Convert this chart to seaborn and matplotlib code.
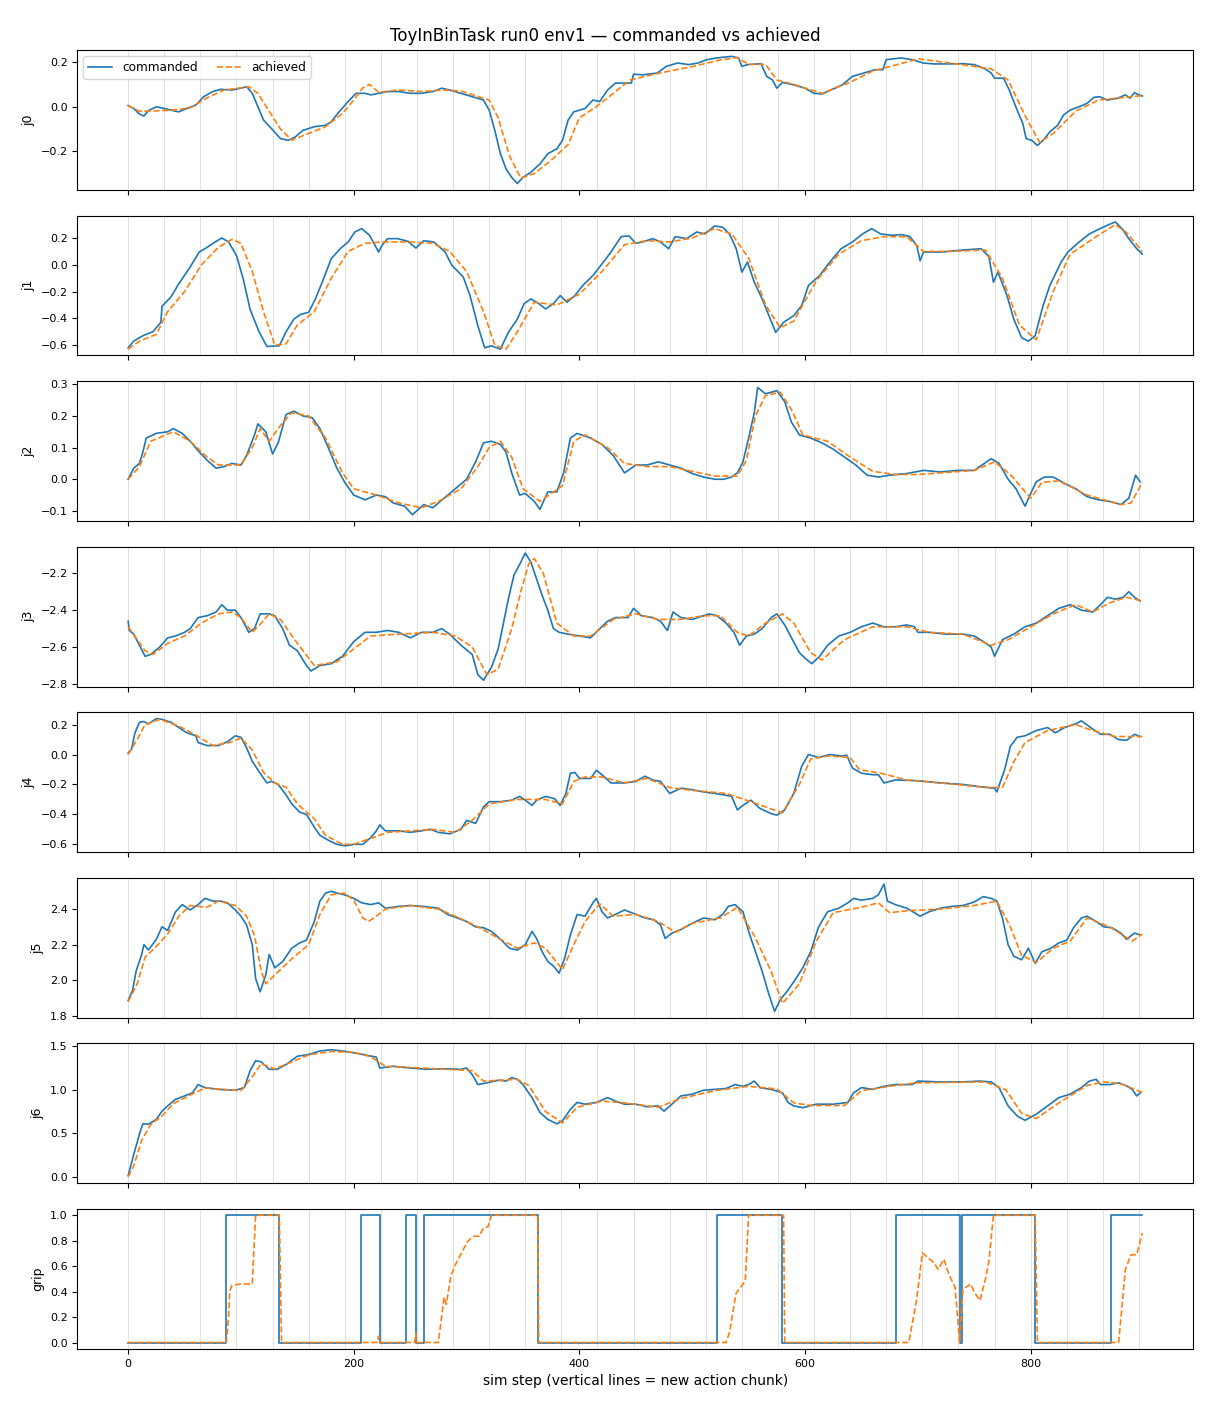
import numpy as np
import matplotlib
matplotlib.use("Agg")
import matplotlib.pyplot as plt
import seaborn as sns

# ---- data (sim step, joint value) ----
chunk_len = 32
n_steps = 900

j0_cmd_x = [0, 5, 10, 14, 18, 25, 32, 40, 45, 52, 60, 67, 75, 82, 92, 100, 105, 110, 115, 120, 127, 135, 142, 148, 155, 165, 175, 180, 187, 195, 202, 210, 215, 222, 230, 240, 250, 260, 270, 278, 285, 295, 305, 315, 320, 325, 330, 335, 340, 345, 350, 357, 365, 372, 380, 385, 390, 395, 405, 412, 418, 425, 432, 440, 446, 448, 456, 469, 477, 487, 497, 505, 513, 522, 530, 535, 541, 544, 549, 561, 566, 571, 575, 580, 590, 600, 608, 615, 623, 633, 642, 652, 662, 669, 672, 685, 695, 705, 714, 727, 740, 750, 760, 765, 768, 776, 781, 788, 793, 796, 801, 806, 811, 817, 824, 829, 835, 843, 850, 856, 861, 868, 877, 884, 888, 892, 896, 899]
j0_cmd_y = [0.005, -0.008, -0.033, -0.042, -0.018, 0.0, -0.008, -0.018, -0.023, -0.008, 0.008, 0.045, 0.068, 0.078, 0.075, 0.083, 0.09, 0.06, 0.0, -0.06, -0.098, -0.143, -0.151, -0.136, -0.106, -0.09, -0.083, -0.068, -0.023, 0.023, 0.06, 0.06, 0.053, 0.06, 0.068, 0.068, 0.06, 0.06, 0.068, 0.083, 0.075, 0.06, 0.045, 0.03, -0.015, -0.106, -0.211, -0.28, -0.317, -0.345, -0.317, -0.294, -0.257, -0.211, -0.189, -0.151, -0.06, -0.023, -0.008, 0.03, 0.023, 0.075, 0.106, 0.106, 0.106, 0.146, 0.143, 0.151, 0.181, 0.196, 0.189, 0.196, 0.211, 0.219, 0.223, 0.226, 0.219, 0.181, 0.189, 0.193, 0.136, 0.121, 0.083, 0.109, 0.098, 0.083, 0.06, 0.057, 0.075, 0.098, 0.136, 0.151, 0.166, 0.166, 0.211, 0.219, 0.211, 0.196, 0.192, 0.192, 0.193, 0.189, 0.169, 0.151, 0.128, 0.128, 0.075, -0.015, -0.075, -0.143, -0.151, -0.174, -0.151, -0.113, -0.083, -0.038, -0.015, 0.0, 0.015, 0.042, 0.045, 0.03, 0.038, 0.053, 0.038, 0.063, 0.053, 0.048]
j0_ach_x = [0, 10, 20, 40, 55, 70, 85, 100, 107, 115, 125, 135, 145, 160, 175, 190, 200, 208, 214, 222, 240, 260, 280, 295, 320, 328, 338, 348, 360, 375, 390, 400, 415, 430, 445, 470, 500, 525, 540, 550, 565, 575, 590, 615, 640, 660, 690, 700, 730, 765, 780, 795, 808, 820, 840, 860, 880, 899]
j0_ach_y = [0.005, -0.02, -0.02, -0.015, -0.005, 0.04, 0.075, 0.085, 0.09, 0.06, -0.02, -0.1, -0.15, -0.12, -0.09, -0.03, 0.03, 0.085, 0.1, 0.065, 0.075, 0.068, 0.075, 0.07, 0.03, -0.05, -0.22, -0.32, -0.30, -0.24, -0.17, -0.05, 0.0, 0.06, 0.12, 0.15, 0.18, 0.21, 0.22, 0.19, 0.19, 0.12, 0.10, 0.06, 0.11, 0.16, 0.2, 0.215, 0.195, 0.17, 0.12, -0.04, -0.16, -0.12, -0.02, 0.03, 0.04, 0.05]

j1_cmd_x = [0, 5, 13, 22, 29, 30, 38, 45, 54, 63, 70, 77, 83, 89, 96, 102, 108, 116, 123, 134, 140, 147, 153, 160, 166, 172, 180, 188, 195, 201, 207, 214, 222, 225, 230, 239, 248, 255, 262, 271, 281, 287, 297, 303, 310, 316, 322, 330, 337, 345, 351, 357, 364, 370, 377, 383, 389, 396, 403, 412, 419, 428, 437, 444, 450, 456, 465, 472, 479, 485, 495, 504, 511, 520, 527, 533, 539, 544, 549, 555, 562, 568, 574, 581, 590, 597, 603, 613, 622, 632, 642, 651, 659, 667, 677, 686, 693, 699, 702, 705, 721, 740, 756, 763, 767, 771, 779, 785, 792, 798, 804, 811, 817, 827, 833, 843, 852, 859, 868, 875, 881, 887, 894, 899]
j1_cmd_y = [-0.62, -0.57, -0.53, -0.50, -0.43, -0.31, -0.24, -0.14, -0.03, 0.095, 0.13, 0.17, 0.2, 0.17, 0.07, -0.105, -0.33, -0.5, -0.61, -0.605, -0.5, -0.405, -0.37, -0.355, -0.255, -0.13, 0.045, 0.12, 0.17, 0.245, 0.27, 0.22, 0.095, 0.145, 0.195, 0.195, 0.175, 0.125, 0.18, 0.17, 0.095, -0.005, -0.09, -0.23, -0.455, -0.62, -0.605, -0.63, -0.505, -0.405, -0.29, -0.255, -0.29, -0.33, -0.29, -0.23, -0.28, -0.23, -0.155, -0.08, -0.005, 0.095, 0.21, 0.215, 0.16, 0.17, 0.195, 0.17, 0.12, 0.21, 0.195, 0.245, 0.23, 0.29, 0.28, 0.23, 0.12, -0.055, 0.02, -0.13, -0.255, -0.38, -0.505, -0.43, -0.38, -0.305, -0.155, -0.08, 0.02, 0.12, 0.17, 0.23, 0.27, 0.23, 0.22, 0.225, 0.21, 0.145, 0.03, 0.095, 0.095, 0.11, 0.12, 0.06, -0.13, -0.055, -0.23, -0.405, -0.545, -0.57, -0.53, -0.305, -0.155, 0.02, 0.095, 0.17, 0.23, 0.26, 0.295, 0.32, 0.27, 0.195, 0.12, 0.08]
j1_ach_x = [0, 10, 25, 35, 50, 65, 80, 92, 100, 110, 120, 130, 140, 150, 165, 180, 195, 210, 225, 250, 270, 285, 300, 315, 325, 335, 345, 360, 380, 400, 420, 440, 460, 480, 500, 520, 535, 550, 565, 578, 590, 610, 630, 650, 670, 690, 705, 730, 760, 775, 790, 805, 820, 835, 860, 875, 885, 899]
j1_ach_y = [-0.63, -0.57, -0.52, -0.35, -0.2, 0.0, 0.13, 0.19, 0.16, -0.05, -0.35, -0.6, -0.59, -0.45, -0.35, -0.1, 0.1, 0.16, 0.17, 0.17, 0.16, 0.1, -0.05, -0.35, -0.6, -0.63, -0.5, -0.28, -0.3, -0.22, -0.05, 0.15, 0.18, 0.17, 0.2, 0.27, 0.23, 0.05, -0.3, -0.47, -0.42, -0.12, 0.08, 0.18, 0.21, 0.21, 0.1, 0.1, 0.11, -0.1, -0.45, -0.56, -0.2, 0.08, 0.22, 0.3, 0.24, 0.1]

j2_cmd_x = [0, 5, 10, 13, 16, 25, 35, 40, 48, 55, 62, 70, 78, 85, 92, 100, 105, 112, 115, 122, 128, 133, 140, 147, 155, 163, 170, 178, 185, 192, 200, 210, 220, 228, 235, 245, 252, 262, 270, 280, 290, 300, 308, 315, 322, 330, 335, 340, 347, 352, 360, 365, 372, 380, 386, 392, 398, 410, 420, 430, 440, 450, 460, 470, 480, 490, 500, 510, 520, 528, 535, 540, 545, 550, 555, 558, 565, 575, 582, 588, 595, 605, 615, 625, 635, 645, 655, 665, 675, 690, 705, 720, 735, 750, 765, 772, 780, 787, 795, 800, 805, 812, 820, 830, 840, 850, 860, 870, 880, 887, 893, 897]
j2_cmd_y = [0.0, 0.035, 0.05, 0.085, 0.13, 0.145, 0.15, 0.16, 0.145, 0.12, 0.09, 0.06, 0.035, 0.04, 0.05, 0.045, 0.075, 0.14, 0.175, 0.15, 0.08, 0.115, 0.205, 0.215, 0.2, 0.195, 0.16, 0.095, 0.035, -0.01, -0.05, -0.065, -0.05, -0.055, -0.075, -0.085, -0.112, -0.08, -0.09, -0.06, -0.03, 0.0, 0.055, 0.115, 0.12, 0.11, 0.085, 0.02, -0.05, -0.045, -0.07, -0.095, -0.04, -0.04, 0.02, 0.13, 0.145, 0.13, 0.11, 0.075, 0.02, 0.045, 0.045, 0.055, 0.045, 0.035, 0.018, 0.007, 0.0, 0.0, 0.007, 0.02, 0.055, 0.13, 0.21, 0.29, 0.27, 0.28, 0.245, 0.18, 0.14, 0.13, 0.115, 0.095, 0.07, 0.045, 0.013, 0.007, 0.013, 0.018, 0.028, 0.023, 0.028, 0.028, 0.065, 0.05, 0.0, -0.03, -0.085, -0.045, -0.008, 0.007, 0.007, -0.013, -0.03, -0.055, -0.065, -0.07, -0.08, -0.06, 0.013, -0.008]
j2_ach_x = [0, 10, 20, 40, 55, 70, 80, 100, 110, 117, 125, 135, 145, 160, 175, 190, 200, 220, 240, 260, 275, 295, 310, 320, 330, 340, 350, 365, 375, 385, 395, 405, 425, 440, 460, 480, 500, 520, 540, 548, 556, 565, 578, 588, 598, 620, 640, 660, 680, 700, 720, 750, 768, 782, 800, 810, 825, 850, 880, 889, 899]
j2_ach_y = [0.0, 0.04, 0.12, 0.15, 0.12, 0.07, 0.045, 0.045, 0.1, 0.16, 0.12, 0.17, 0.21, 0.2, 0.13, 0.02, -0.03, -0.05, -0.075, -0.09, -0.07, -0.03, 0.04, 0.1, 0.12, 0.07, -0.03, -0.07, -0.045, -0.02, 0.12, 0.14, 0.1, 0.05, 0.04, 0.04, 0.025, 0.01, 0.01, 0.06, 0.2, 0.265, 0.275, 0.22, 0.14, 0.12, 0.07, 0.025, 0.015, 0.015, 0.02, 0.028, 0.055, 0.015, -0.06, -0.01, -0.005, -0.05, -0.08, -0.075, -0.01]

j3_cmd_x = [0, 1, 5, 10, 15, 20, 28, 35, 42, 50, 55, 62, 70, 78, 83, 88, 95, 100, 107, 112, 117, 125, 130, 137, 143, 150, 158, 162, 170, 180, 190, 200, 210, 220, 230, 240, 250, 260, 270, 278, 285, 295, 305, 310, 315, 322, 328, 333, 337, 342, 348, 352, 357, 362, 367, 372, 377, 382, 390, 400, 410, 418, 425, 432, 438, 443, 448, 455, 465, 472, 478, 483, 490, 500, 510, 515, 522, 530, 537, 542, 548, 555, 562, 570, 575, 582, 588, 595, 600, 606, 613, 620, 630, 640, 650, 660, 670, 680, 690, 697, 700, 710, 725, 740, 750, 758, 765, 768, 775, 785, 795, 805, 815, 825, 835, 845, 855, 862, 868, 875, 882, 887, 892, 897]
j3_cmd_y = [-2.46, -2.51, -2.53, -2.59, -2.65, -2.64, -2.60, -2.55, -2.54, -2.52, -2.50, -2.44, -2.43, -2.41, -2.37, -2.40, -2.40, -2.44, -2.52, -2.50, -2.42, -2.42, -2.43, -2.50, -2.59, -2.62, -2.70, -2.73, -2.70, -2.69, -2.65, -2.57, -2.52, -2.52, -2.51, -2.52, -2.55, -2.52, -2.52, -2.50, -2.53, -2.59, -2.64, -2.75, -2.78, -2.71, -2.61, -2.46, -2.34, -2.21, -2.14, -2.09, -2.14, -2.23, -2.32, -2.40, -2.50, -2.52, -2.53, -2.54, -2.55, -2.50, -2.46, -2.44, -2.44, -2.44, -2.39, -2.43, -2.44, -2.46, -2.51, -2.41, -2.44, -2.45, -2.43, -2.42, -2.43, -2.47, -2.52, -2.59, -2.54, -2.53, -2.50, -2.44, -2.42, -2.48, -2.55, -2.63, -2.66, -2.69, -2.65, -2.59, -2.54, -2.52, -2.49, -2.47, -2.49, -2.49, -2.48, -2.49, -2.52, -2.52, -2.53, -2.53, -2.54, -2.57, -2.60, -2.65, -2.56, -2.53, -2.49, -2.47, -2.43, -2.39, -2.37, -2.40, -2.41, -2.37, -2.33, -2.34, -2.33, -2.30, -2.33, -2.35]
j3_ach_x = [0, 8, 15, 22, 35, 50, 65, 80, 92, 100, 110, 118, 125, 135, 150, 165, 185, 200, 215, 240, 270, 290, 305, 318, 328, 340, 348, 355, 360, 368, 380, 395, 410, 430, 450, 470, 490, 510, 525, 540, 550, 565, 580, 590, 605, 615, 635, 660, 690, 710, 740, 765, 780, 800, 820, 840, 855, 870, 885, 899]
j3_ach_y = [-2.49, -2.56, -2.62, -2.64, -2.58, -2.54, -2.47, -2.42, -2.41, -2.44, -2.52, -2.47, -2.42, -2.45, -2.58, -2.70, -2.68, -2.61, -2.54, -2.53, -2.52, -2.54, -2.60, -2.75, -2.72, -2.50, -2.30, -2.15, -2.12, -2.20, -2.47, -2.54, -2.54, -2.45, -2.42, -2.45, -2.45, -2.43, -2.43, -2.52, -2.54, -2.47, -2.42, -2.47, -2.63, -2.67, -2.56, -2.49, -2.49, -2.52, -2.53, -2.59, -2.56, -2.49, -2.42, -2.37, -2.41, -2.36, -2.33, -2.35]

j4_cmd_x = [0, 3, 6, 10, 14, 18, 25, 30, 38, 45, 52, 60, 62, 70, 80, 88, 95, 100, 105, 110, 117, 123, 127, 133, 140, 145, 152, 158, 165, 170, 178, 185, 193, 200, 208, 215, 220, 223, 228, 240, 250, 260, 268, 275, 285, 295, 300, 308, 315, 320, 330, 340, 347, 352, 358, 362, 370, 378, 383, 388, 392, 396, 400, 410, 415, 420, 428, 440, 450, 458, 465, 472, 480, 490, 500, 510, 520, 528, 535, 540, 545, 552, 560, 570, 575, 582, 590, 597, 603, 612, 622, 632, 637, 642, 650, 660, 665, 670, 680, 700, 720, 740, 755, 768, 770, 777, 782, 788, 795, 805, 815, 822, 830, 840, 845, 855, 862, 870, 878, 885, 892, 897]
j4_cmd_y = [0.01, 0.035, 0.145, 0.215, 0.22, 0.205, 0.24, 0.235, 0.215, 0.18, 0.145, 0.125, 0.08, 0.06, 0.06, 0.085, 0.125, 0.115, 0.045, -0.045, -0.125, -0.19, -0.18, -0.2, -0.27, -0.33, -0.385, -0.40, -0.485, -0.54, -0.575, -0.6, -0.61, -0.6, -0.6, -0.555, -0.51, -0.47, -0.51, -0.51, -0.52, -0.51, -0.5, -0.52, -0.53, -0.5, -0.44, -0.46, -0.35, -0.315, -0.315, -0.305, -0.28, -0.305, -0.34, -0.305, -0.28, -0.295, -0.34, -0.26, -0.125, -0.12, -0.16, -0.16, -0.105, -0.135, -0.19, -0.19, -0.18, -0.145, -0.17, -0.18, -0.26, -0.225, -0.235, -0.25, -0.26, -0.27, -0.28, -0.37, -0.34, -0.305, -0.36, -0.395, -0.405, -0.37, -0.26, -0.08, 0.0, -0.02, 0.0, -0.01, -0.005, -0.09, -0.125, -0.135, -0.135, -0.19, -0.17, -0.175, -0.19, -0.2, -0.215, -0.225, -0.25, -0.1, 0.055, 0.115, 0.125, 0.16, 0.18, 0.145, 0.18, 0.205, 0.225, 0.17, 0.135, 0.135, 0.1, 0.095, 0.135, 0.12]
j4_ach_x = [0, 8, 15, 28, 45, 60, 75, 90, 100, 110, 120, 130, 140, 150, 165, 175, 190, 200, 215, 230, 250, 270, 290, 305, 320, 345, 370, 385, 395, 405, 420, 440, 460, 480, 500, 530, 550, 580, 595, 605, 620, 640, 648, 670, 690, 720, 760, 775, 785, 795, 815, 840, 855, 875, 899]
j4_ach_y = [0.0, 0.1, 0.2, 0.235, 0.19, 0.13, 0.06, 0.08, 0.11, 0.03, -0.12, -0.19, -0.22, -0.33, -0.43, -0.54, -0.6, -0.6, -0.56, -0.52, -0.51, -0.5, -0.52, -0.44, -0.33, -0.3, -0.3, -0.33, -0.18, -0.15, -0.15, -0.19, -0.16, -0.22, -0.24, -0.26, -0.31, -0.39, -0.2, -0.03, -0.01, -0.02, -0.1, -0.13, -0.17, -0.19, -0.22, -0.22, -0.05, 0.08, 0.16, 0.2, 0.16, 0.12, 0.12]

j5_cmd_x = [0, 4, 7, 12, 14, 18, 25, 30, 35, 42, 48, 55, 62, 68, 75, 82, 88, 95, 100, 105, 110, 113, 117, 122, 125, 130, 137, 145, 152, 158, 165, 170, 175, 180, 185, 192, 200, 207, 215, 222, 228, 240, 250, 262, 275, 283, 292, 300, 308, 315, 322, 330, 338, 345, 352, 358, 362, 367, 372, 377, 382, 387, 392, 398, 405, 412, 415, 420, 425, 432, 440, 450, 458, 466, 472, 476, 482, 490, 500, 510, 520, 527, 532, 538, 545, 550, 555, 562, 568, 573, 578, 585, 592, 598, 605, 612, 620, 630, 638, 643, 650, 660, 665, 670, 673, 680, 690, 697, 702, 710, 720, 730, 740, 750, 758, 765, 770, 775, 780, 785, 792, 798, 804, 810, 818, 825, 832, 838, 845, 850, 858, 865, 872, 880, 885, 892, 897]
j5_cmd_y = [1.885, 1.945, 2.05, 2.145, 2.2, 2.17, 2.23, 2.30, 2.28, 2.385, 2.425, 2.395, 2.425, 2.46, 2.445, 2.445, 2.435, 2.395, 2.36, 2.31, 2.2, 2.01, 1.935, 2.03, 2.145, 2.07, 2.105, 2.18, 2.21, 2.225, 2.33, 2.445, 2.49, 2.5, 2.49, 2.48, 2.46, 2.435, 2.425, 2.435, 2.405, 2.415, 2.42, 2.415, 2.405, 2.37, 2.35, 2.33, 2.30, 2.295, 2.275, 2.23, 2.18, 2.17, 2.2, 2.275, 2.235, 2.16, 2.105, 2.08, 2.04, 2.125, 2.255, 2.37, 2.36, 2.435, 2.46, 2.385, 2.35, 2.37, 2.395, 2.37, 2.35, 2.34, 2.31, 2.235, 2.265, 2.285, 2.32, 2.35, 2.34, 2.37, 2.415, 2.425, 2.385, 2.275, 2.18, 2.05, 1.92, 1.825, 1.89, 1.945, 2.01, 2.07, 2.16, 2.30, 2.385, 2.405, 2.435, 2.46, 2.45, 2.46, 2.48, 2.54, 2.445, 2.425, 2.405, 2.38, 2.36, 2.385, 2.405, 2.415, 2.42, 2.44, 2.47, 2.46, 2.445, 2.35, 2.2, 2.135, 2.115, 2.18, 2.095, 2.16, 2.18, 2.21, 2.225, 2.295, 2.35, 2.36, 2.33, 2.30, 2.295, 2.265, 2.23, 2.265, 2.255]
j5_ach_x = [0, 8, 15, 25, 35, 45, 55, 70, 80, 95, 105, 112, 118, 122, 130, 145, 160, 170, 180, 192, 200, 208, 213, 220, 228, 250, 275, 290, 310, 330, 345, 360, 370, 385, 395, 405, 418, 430, 450, 470, 485, 500, 525, 540, 555, 570, 580, 595, 610, 625, 650, 665, 675, 690, 720, 750, 770, 782, 792, 805, 820, 835, 850, 870, 890, 899]
j5_ach_y = [1.88, 1.98, 2.13, 2.19, 2.26, 2.36, 2.42, 2.41, 2.445, 2.42, 2.36, 2.25, 2.05, 1.98, 2.03, 2.12, 2.2, 2.37, 2.48, 2.49, 2.45, 2.35, 2.33, 2.36, 2.40, 2.42, 2.40, 2.36, 2.30, 2.23, 2.18, 2.21, 2.18, 2.06, 2.20, 2.33, 2.43, 2.36, 2.37, 2.33, 2.27, 2.32, 2.35, 2.41, 2.25, 2.05, 1.87, 1.98, 2.22, 2.38, 2.41, 2.435, 2.38, 2.39, 2.40, 2.42, 2.445, 2.3, 2.14, 2.10, 2.18, 2.22, 2.35, 2.30, 2.22, 2.26]

j6_cmd_x = [0, 5, 10, 13, 18, 25, 30, 35, 42, 50, 57, 62, 68, 80, 95, 103, 108, 113, 118, 125, 132, 140, 150, 160, 170, 180, 190, 200, 210, 220, 223, 235, 250, 265, 275, 285, 295, 300, 305, 310, 318, 328, 335, 340, 345, 350, 358, 365, 372, 380, 385, 392, 398, 405, 415, 425, 432, 440, 450, 460, 470, 475, 482, 490, 500, 510, 520, 530, 538, 545, 550, 555, 560, 570, 580, 585, 590, 598, 610, 625, 638, 643, 650, 660, 670, 680, 695, 700, 720, 740, 755, 765, 772, 780, 788, 795, 805, 815, 825, 835, 845, 852, 858, 862, 870, 878, 885, 890, 894, 897]
j6_cmd_y = [0.015, 0.26, 0.49, 0.61, 0.605, 0.66, 0.755, 0.815, 0.89, 0.93, 0.965, 1.06, 1.025, 1.005, 0.995, 1.025, 1.215, 1.335, 1.32, 1.235, 1.235, 1.29, 1.385, 1.405, 1.445, 1.46, 1.445, 1.425, 1.4, 1.375, 1.25, 1.27, 1.25, 1.235, 1.24, 1.24, 1.235, 1.25, 1.175, 1.06, 1.08, 1.11, 1.10, 1.14, 1.12, 1.06, 0.91, 0.74, 0.66, 0.61, 0.645, 0.775, 0.855, 0.835, 0.855, 0.91, 0.87, 0.835, 0.835, 0.805, 0.815, 0.755, 0.835, 0.93, 0.95, 0.995, 1.005, 1.015, 1.06, 1.04, 1.06, 1.10, 1.025, 1.005, 0.965, 0.855, 0.815, 0.795, 0.835, 0.835, 0.855, 0.965, 1.025, 1.005, 1.04, 1.06, 1.06, 1.10, 1.09, 1.09, 1.10, 1.09, 1.025, 0.815, 0.70, 0.65, 0.72, 0.815, 0.91, 0.95, 1.025, 1.10, 1.12, 1.06, 1.06, 1.08, 1.045, 1.005, 0.93, 0.965]
j6_ach_x = [0, 5, 12, 20, 30, 40, 55, 68, 100, 110, 118, 130, 145, 160, 180, 200, 215, 228, 260, 290, 305, 315, 345, 355, 370, 385, 398, 420, 440, 470, 490, 520, 550, 575, 590, 605, 635, 650, 680, 700, 760, 778, 792, 805, 825, 850, 865, 880, 899]
j6_ach_y = [0.0, 0.13, 0.42, 0.6, 0.7, 0.84, 0.94, 1.02, 0.99, 1.15, 1.30, 1.24, 1.32, 1.40, 1.44, 1.43, 1.38, 1.27, 1.25, 1.23, 1.22, 1.10, 1.12, 1.05, 0.75, 0.62, 0.8, 0.87, 0.85, 0.80, 0.9, 0.99, 1.04, 1.01, 0.85, 0.82, 0.82, 0.99, 1.05, 1.08, 1.09, 1.00, 0.73, 0.67, 0.85, 1.05, 1.09, 1.07, 0.97]

# commanded grip: open/close switch points (held until next one)
grip_cmd_x = [0, 87, 134, 206, 223, 246, 255, 262, 363, 522, 580, 681, 737, 739, 804, 871, 899]
grip_cmd_y = [0, 1, 0, 1, 0, 1, 0, 1, 0, 1, 0, 1, 0, 1, 0, 1, 1]
grip_ach_x = [0, 87, 89, 90, 92, 100, 110, 113, 134, 136, 221, 222, 223, 254, 255, 256, 275, 280, 282, 286, 290, 297, 301, 306, 311, 315, 319, 322, 363, 364, 530, 533, 539, 544, 547, 550, 581, 582, 692, 699, 704, 709, 714, 718, 723, 728, 733, 737, 740, 747, 750, 755, 760, 763, 767, 804, 806, 878, 884, 889, 894, 899]
grip_ach_y = [0, 0, 0.2, 0.4, 0.45, 0.46, 0.46, 1.0, 1.0, 0, 0, 0.05, 0, 0, 0.07, 0, 0, 0.355, 0.30, 0.52, 0.61, 0.73, 0.795, 0.835, 0.835, 0.9, 0.91, 1.0, 1.0, 0, 0, 0.08, 0.39, 0.445, 0.485, 1.0, 1.0, 0, 0, 0.34, 0.705, 0.665, 0.63, 0.575, 0.655, 0.525, 0.435, 0, 0.42, 0.46, 0.395, 0.33, 0.5, 0.64, 1.0, 1.0, 0, 0, 0.575, 0.69, 0.69, 0.86]

joint_names = ["j0", "j1", "j2", "j3", "j4", "j5", "j6", "grip"]
commanded = [(j0_cmd_x, j0_cmd_y), (j1_cmd_x, j1_cmd_y), (j2_cmd_x, j2_cmd_y), (j3_cmd_x, j3_cmd_y),
             (j4_cmd_x, j4_cmd_y), (j5_cmd_x, j5_cmd_y), (j6_cmd_x, j6_cmd_y), (grip_cmd_x, grip_cmd_y)]
achieved = [(j0_ach_x, j0_ach_y), (j1_ach_x, j1_ach_y), (j2_ach_x, j2_ach_y), (j3_ach_x, j3_ach_y),
            (j4_ach_x, j4_ach_y), (j5_ach_x, j5_ach_y), (j6_ach_x, j6_ach_y), (grip_ach_x, grip_ach_y)]

chunk_starts = np.arange(0, n_steps, chunk_len)

fig, axes = plt.subplots(8, 1, figsize=(12.1, 14.08), dpi=100, sharex=True)
fig.subplots_adjust(left=0.064, right=0.986, top=0.9645, bottom=0.042, hspace=0.183)

for i, ax in enumerate(axes):
    # one faint line per new action chunk
    for c in chunk_starts:
        ax.axvline(c, color="0.5", alpha=0.25, lw=0.7, zorder=0)
    cx, cy = commanded[i]
    axx, ayy = achieved[i]
    extra = {"drawstyle": "steps-post"} if joint_names[i] == "grip" else {}
    sns.lineplot(x=cx, y=cy, ax=ax, color="#1f77b4", lw=1.2, estimator=None, sort=False,
                 label="commanded" if i == 0 else None, legend=False, **extra)
    sns.lineplot(x=axx, y=ayy, ax=ax, color="#ff7f0e", lw=1.2, ls="--", estimator=None, sort=False,
                 label="achieved" if i == 0 else None, legend=False)
    ax.set_ylabel(joint_names[i], fontsize=9)
    ax.tick_params(labelsize=8)

axes[0].legend(loc="upper left", ncol=2, fontsize=8.7, columnspacing=1.6)
axes[-1].set_xlabel("sim step (vertical lines = new action chunk)", fontsize=10)
axes[-1].set_xticks([0, 200, 400, 600, 800])
fig.suptitle("ToyInBinTask run0 env1 \u2014 commanded vs achieved", fontsize=12, y=0.981)

fig.savefig("out.png", dpi=100)
